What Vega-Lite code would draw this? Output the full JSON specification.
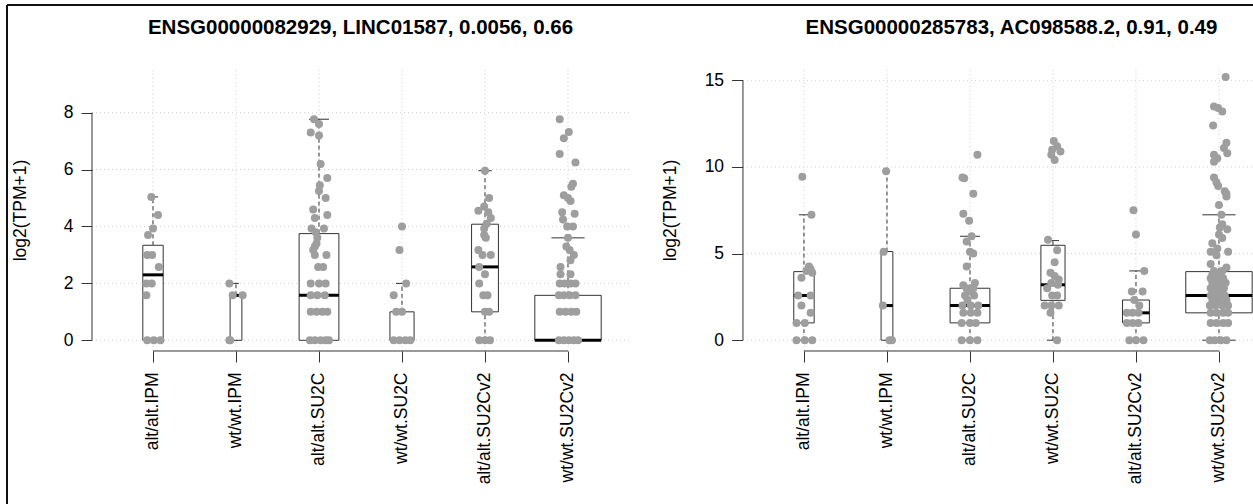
{
"$schema": "https://vega.github.io/schema/vega-lite/v6.json",
"width": 1246, "height": 499,
"autosize": {"type": "none"},
"padding": {"left": 7, "top": 5, "right": 0, "bottom": 0},
"background": "white",
"config": {
  "font": "Liberation Sans",
  "view": {"stroke": "#111", "strokeWidth": 2, "strokeDash": [1246, 1745, 499, 0]},
  "axis": {"labelFont": "Liberation Sans", "titleFont": "Liberation Sans"}
},
"datasets": {
  "titleA": [{"t": "ENSG00000082929, LINC01587, 0.0056, 0.66"}],
  "titleB": [{"t": "ENSG00000285783, AC098588.2, 0.91, 0.49"}],
  "ticksA": [{"v": 0}, {"v": 2}, {"v": 4}, {"v": 6}, {"v": 8}],
  "ticksB": [{"v": 0}, {"v": 5}, {"v": 10}, {"v": 15}],
  "boxA": [
    {"g": "alt/alt.IPM", "i": 1, "n": 15, "lo": 0, "q1": 0, "med": 2.3, "q3": 3.34, "hi": 5.04},
    {"g": "wt/wt.IPM", "i": 2, "n": 5, "lo": 0, "q1": 0, "med": 1.58, "q3": 1.58, "hi": 2.0},
    {"g": "alt/alt.SU2C", "i": 3, "n": 57, "lo": 0, "q1": 0, "med": 1.58, "q3": 3.75, "hi": 7.77},
    {"g": "wt/wt.SU2C", "i": 4, "n": 21, "lo": 0, "q1": 0, "med": 0, "q3": 1.0, "hi": 2.0},
    {"g": "alt/alt.SU2Cv2", "i": 5, "n": 26, "lo": 0, "q1": 1.0, "med": 2.58, "q3": 4.08, "hi": 5.96},
    {"g": "wt/wt.SU2Cv2", "i": 6, "n": 159, "lo": 0, "q1": 0, "med": 0, "q3": 1.58, "hi": 3.6}
  ],
  "boxB": [
    {"g": "alt/alt.IPM", "i": 1, "n": 15, "lo": 0, "q1": 1.0, "med": 2.58, "q3": 3.96, "hi": 7.24},
    {"g": "wt/wt.IPM", "i": 2, "n": 5, "lo": 0, "q1": 0, "med": 2.0, "q3": 5.12, "hi": 9.75},
    {"g": "alt/alt.SU2C", "i": 3, "n": 57, "lo": 0, "q1": 1.0, "med": 2.0, "q3": 3.0, "hi": 6.0},
    {"g": "wt/wt.SU2C", "i": 4, "n": 21, "lo": 0, "q1": 2.3, "med": 3.2, "q3": 5.48, "hi": 5.75},
    {"g": "alt/alt.SU2Cv2", "i": 5, "n": 26, "lo": 0, "q1": 1.0, "med": 1.58, "q3": 2.32, "hi": 4.0},
    {"g": "wt/wt.SU2Cv2", "i": 6, "n": 159, "lo": 0, "q1": 1.58, "med": 2.58, "q3": 3.96, "hi": 7.24}
  ],
  "ptsA": [
    {"i":1,"j":-0.02,"v":5.04},{"i":1,"j":0.06,"v":4.4},{"i":1,"j":0.0,"v":3.93},{"i":1,"j":-0.06,"v":3.7},{"i":1,"j":-0.07,"v":3.0},{"i":1,"j":-0.01,"v":3.0},{"i":1,"j":0.07,"v":2.58},{"i":1,"j":-0.08,"v":2.0},{"i":1,"j":-0.015,"v":2.0},{"i":1,"j":-0.08,"v":1.58},{"i":1,"j":-0.07,"v":0},{"i":1,"j":0.01,"v":0},{"i":1,"j":0.09,"v":0},
    {"i":2,"j":-0.08,"v":2.0},{"i":2,"j":-0.04,"v":1.58},{"i":2,"j":0.08,"v":1.58},{"i":2,"j":-0.08,"v":0},{"i":2,"j":-0.07,"v":0},
    {"i":3,"j":-0.06,"v":7.77},{"i":3,"j":0.0,"v":7.6},{"i":3,"j":-0.1,"v":7.3},{"i":3,"j":0.0,"v":7.2},{"i":3,"j":0.02,"v":6.2},{"i":3,"j":0.1,"v":5.7},{"i":3,"j":0.01,"v":5.45},{"i":3,"j":0.0,"v":5.25},{"i":3,"j":0.08,"v":5.0},{"i":3,"j":-0.07,"v":4.6},{"i":3,"j":0.1,"v":4.4},{"i":3,"j":-0.05,"v":4.3},{"i":3,"j":-0.09,"v":3.93},{"i":3,"j":0.06,"v":3.93},{"i":3,"j":-0.04,"v":3.8},{"i":3,"j":-0.02,"v":3.6},{"i":3,"j":-0.03,"v":3.4},{"i":3,"j":-0.05,"v":3.3},{"i":3,"j":-0.07,"v":3.17},{"i":3,"j":-0.05,"v":3.0},{"i":3,"j":0.09,"v":3.0},{"i":3,"j":-0.01,"v":2.58},{"i":3,"j":0.05,"v":2.58},{"i":3,"j":-0.1,"v":2.0},{"i":3,"j":0.0,"v":2.0},{"i":3,"j":0.08,"v":2.0},{"i":3,"j":-0.1,"v":1.58},{"i":3,"j":-0.02,"v":1.58},{"i":3,"j":0.07,"v":1.58},{"i":3,"j":-0.1,"v":1.0},{"i":3,"j":-0.03,"v":1.0},{"i":3,"j":0.04,"v":1.0},{"i":3,"j":0.1,"v":1.0},{"i":3,"j":-0.11,"v":0},{"i":3,"j":-0.05,"v":0},{"i":3,"j":0.02,"v":0},{"i":3,"j":0.08,"v":0},{"i":3,"j":0.12,"v":0},
    {"i":4,"j":0.0,"v":4.0},{"i":4,"j":-0.03,"v":3.17},{"i":4,"j":0.05,"v":2.0},{"i":4,"j":-0.1,"v":1.58},{"i":4,"j":-0.07,"v":1.0},{"i":4,"j":0.0,"v":1.0},{"i":4,"j":-0.1,"v":0},{"i":4,"j":-0.03,"v":0},{"i":4,"j":0.04,"v":0},{"i":4,"j":0.1,"v":0},
    {"i":5,"j":0.0,"v":5.96},{"i":5,"j":0.05,"v":5.0},{"i":5,"j":-0.01,"v":4.7},{"i":5,"j":-0.08,"v":4.55},{"i":5,"j":0.04,"v":4.5},{"i":5,"j":0.07,"v":4.3},{"i":5,"j":0.02,"v":4.1},{"i":5,"j":-0.01,"v":3.93},{"i":5,"j":-0.01,"v":3.7},{"i":5,"j":0.01,"v":3.6},{"i":5,"j":-0.08,"v":3.17},{"i":5,"j":-0.03,"v":3.0},{"i":5,"j":0.07,"v":3.0},{"i":5,"j":-0.07,"v":2.58},{"i":5,"j":0.0,"v":2.32},{"i":5,"j":-0.07,"v":2.0},{"i":5,"j":-0.02,"v":1.58},{"i":5,"j":0.03,"v":1.58},{"i":5,"j":0.0,"v":1.0},{"i":5,"j":0.05,"v":1.0},{"i":5,"j":-0.07,"v":0},{"i":5,"j":0.0,"v":0},{"i":5,"j":0.06,"v":0},
    {"i":6,"j":-0.1,"v":7.77},{"i":6,"j":0.01,"v":7.32},{"i":6,"j":-0.05,"v":7.1},{"i":6,"j":-0.1,"v":6.55},{"i":6,"j":0.09,"v":6.25},{"i":6,"j":0.06,"v":5.5},{"i":6,"j":0.04,"v":5.4},{"i":6,"j":-0.05,"v":5.1},{"i":6,"j":0.0,"v":5.0},{"i":6,"j":0.03,"v":4.9},{"i":6,"j":-0.07,"v":4.5},{"i":6,"j":0.08,"v":4.45},{"i":6,"j":-0.06,"v":4.25},{"i":6,"j":-0.01,"v":4.0},{"i":6,"j":0.06,"v":4.0},{"i":6,"j":0.0,"v":3.6},{"i":6,"j":-0.02,"v":3.3},{"i":6,"j":0.02,"v":3.17},{"i":6,"j":0.07,"v":3.0},{"i":6,"j":0.03,"v":2.81},{"i":6,"j":-0.09,"v":2.58},{"i":6,"j":-0.09,"v":2.32},{"i":6,"j":0.03,"v":2.32},{"i":6,"j":-0.1,"v":2.0},{"i":6,"j":-0.04,"v":2.0},{"i":6,"j":0.03,"v":2.0},{"i":6,"j":0.09,"v":2.0},{"i":6,"j":-0.11,"v":1.58},{"i":6,"j":-0.05,"v":1.58},{"i":6,"j":0.02,"v":1.58},{"i":6,"j":0.09,"v":1.58},{"i":6,"j":-0.1,"v":1.0},{"i":6,"j":-0.03,"v":1.0},{"i":6,"j":0.04,"v":1.0},{"i":6,"j":0.1,"v":1.0},{"i":6,"j":-0.11,"v":0},{"i":6,"j":-0.05,"v":0},{"i":6,"j":0.01,"v":0},{"i":6,"j":0.07,"v":0},{"i":6,"j":0.12,"v":0}
  ],
  "ptsB": [
    {"i":1,"j":-0.02,"v":9.43},{"i":1,"j":0.09,"v":7.24},{"i":1,"j":0.06,"v":4.25},{"i":1,"j":0.08,"v":4.1},{"i":1,"j":0.03,"v":4.0},{"i":1,"j":0.1,"v":3.9},{"i":1,"j":-0.03,"v":3.6},{"i":1,"j":-0.07,"v":2.58},{"i":1,"j":0.08,"v":2.58},{"i":1,"j":-0.03,"v":2.0},{"i":1,"j":0.08,"v":1.58},{"i":1,"j":-0.09,"v":1.0},{"i":1,"j":0.01,"v":1.0},{"i":1,"j":-0.09,"v":0},{"i":1,"j":0.01,"v":0},{"i":1,"j":0.1,"v":0},
    {"i":2,"j":-0.01,"v":9.75},{"i":2,"j":-0.04,"v":5.1},{"i":2,"j":-0.05,"v":2.0},{"i":2,"j":0.03,"v":0},{"i":2,"j":0.06,"v":0},
    {"i":3,"j":0.09,"v":10.7},{"i":3,"j":-0.09,"v":9.4},{"i":3,"j":-0.07,"v":9.35},{"i":3,"j":0.04,"v":8.45},{"i":3,"j":-0.08,"v":7.3},{"i":3,"j":-0.01,"v":6.9},{"i":3,"j":0.02,"v":6.0},{"i":3,"j":-0.04,"v":5.7},{"i":3,"j":0.0,"v":5.1},{"i":3,"j":0.04,"v":5.0},{"i":3,"j":-0.04,"v":4.25},{"i":3,"j":0.06,"v":3.3},{"i":3,"j":-0.08,"v":3.17},{"i":3,"j":-0.04,"v":3.0},{"i":3,"j":0.04,"v":3.0},{"i":3,"j":-0.01,"v":2.81},{"i":3,"j":-0.06,"v":2.58},{"i":3,"j":0.05,"v":2.58},{"i":3,"j":-0.03,"v":2.32},{"i":3,"j":-0.09,"v":2.0},{"i":3,"j":0.01,"v":2.0},{"i":3,"j":0.1,"v":2.0},{"i":3,"j":-0.08,"v":1.58},{"i":3,"j":0.01,"v":1.58},{"i":3,"j":0.09,"v":1.58},{"i":3,"j":-0.1,"v":1.0},{"i":3,"j":0.0,"v":1.0},{"i":3,"j":0.07,"v":1.0},{"i":3,"j":-0.1,"v":0},{"i":3,"j":0.0,"v":0},{"i":3,"j":0.09,"v":0},
    {"i":4,"j":0.01,"v":11.5},{"i":4,"j":0.05,"v":11.2},{"i":4,"j":-0.01,"v":11.0},{"i":4,"j":0.09,"v":10.9},{"i":4,"j":-0.02,"v":10.7},{"i":4,"j":0.02,"v":10.4},{"i":4,"j":-0.06,"v":5.8},{"i":4,"j":0.05,"v":5.2},{"i":4,"j":0.02,"v":4.5},{"i":4,"j":-0.03,"v":3.9},{"i":4,"j":0.02,"v":3.7},{"i":4,"j":0.07,"v":3.5},{"i":4,"j":-0.02,"v":3.3},{"i":4,"j":0.06,"v":3.2},{"i":4,"j":-0.07,"v":3.0},{"i":4,"j":-0.01,"v":2.58},{"i":4,"j":0.05,"v":2.58},{"i":4,"j":-0.1,"v":2.0},{"i":4,"j":-0.02,"v":2.0},{"i":4,"j":0.07,"v":2.0},{"i":4,"j":-0.03,"v":1.58},{"i":4,"j":0.05,"v":0},
    {"i":5,"j":-0.03,"v":7.5},{"i":5,"j":0.0,"v":6.1},{"i":5,"j":0.1,"v":4.0},{"i":5,"j":-0.05,"v":2.81},{"i":5,"j":0.08,"v":2.81},{"i":5,"j":-0.02,"v":2.32},{"i":5,"j":0.04,"v":2.0},{"i":5,"j":-0.11,"v":1.58},{"i":5,"j":-0.04,"v":1.58},{"i":5,"j":0.03,"v":1.58},{"i":5,"j":-0.11,"v":1.0},{"i":5,"j":-0.04,"v":1.0},{"i":5,"j":0.03,"v":1.0},{"i":5,"j":-0.08,"v":0},{"i":5,"j":0.0,"v":0},{"i":5,"j":0.09,"v":0},
    {"i":6,"j":0.08,"v":15.2},{"i":6,"j":-0.06,"v":13.5},{"i":6,"j":-0.01,"v":13.4},{"i":6,"j":0.04,"v":13.2},{"i":6,"j":-0.07,"v":12.4},{"i":6,"j":0.09,"v":11.4},{"i":6,"j":0.06,"v":11.1},{"i":6,"j":0.1,"v":10.8},{"i":6,"j":-0.06,"v":10.7},{"i":6,"j":-0.02,"v":10.5},{"i":6,"j":-0.06,"v":10.3},{"i":6,"j":-0.06,"v":9.4},{"i":6,"j":-0.03,"v":9.1},{"i":6,"j":-0.01,"v":8.9},{"i":6,"j":0.07,"v":8.6},{"i":6,"j":0.09,"v":8.45},{"i":6,"j":0.09,"v":8.3},{"i":6,"j":0.0,"v":7.8},{"i":6,"j":0.03,"v":7.25},{"i":6,"j":0.04,"v":6.7},{"i":6,"j":0.01,"v":6.5},{"i":6,"j":0.1,"v":6.4},{"i":6,"j":0.0,"v":6.1},{"i":6,"j":0.04,"v":5.9},{"i":6,"j":-0.08,"v":5.6},{"i":6,"j":-0.02,"v":5.3},{"i":6,"j":-0.1,"v":5.1},{"i":6,"j":0.11,"v":5.1},{"i":6,"j":-0.03,"v":4.9},{"i":6,"j":-0.1,"v":4.4},{"i":6,"j":0.09,"v":4.2},{"i":6,"j":-0.06,"v":4.0},{"i":6,"j":0.04,"v":4.0},{"i":6,"j":-0.08,"v":3.8},{"i":6,"j":0.02,"v":3.8},{"i":6,"j":-0.1,"v":3.58},{"i":6,"j":-0.03,"v":3.58},{"i":6,"j":0.05,"v":3.58},{"i":6,"j":-0.08,"v":3.32},{"i":6,"j":0.0,"v":3.32},{"i":6,"j":0.08,"v":3.32},{"i":6,"j":-0.05,"v":3.17},{"i":6,"j":0.04,"v":3.17},{"i":6,"j":-0.1,"v":3.0},{"i":6,"j":-0.02,"v":3.0},{"i":6,"j":0.06,"v":3.0},{"i":6,"j":-0.07,"v":2.81},{"i":6,"j":0.03,"v":2.81},{"i":6,"j":-0.1,"v":2.58},{"i":6,"j":-0.02,"v":2.58},{"i":6,"j":0.07,"v":2.58},{"i":6,"j":-0.08,"v":2.32},{"i":6,"j":0.0,"v":2.32},{"i":6,"j":0.09,"v":2.32},{"i":6,"j":-0.11,"v":2.0},{"i":6,"j":-0.04,"v":2.0},{"i":6,"j":0.04,"v":2.0},{"i":6,"j":0.11,"v":2.0},{"i":6,"j":-0.1,"v":1.58},{"i":6,"j":-0.03,"v":1.58},{"i":6,"j":0.05,"v":1.58},{"i":6,"j":0.11,"v":1.58},{"i":6,"j":-0.1,"v":1.0},{"i":6,"j":-0.03,"v":1.0},{"i":6,"j":0.05,"v":1.0},{"i":6,"j":0.11,"v":1.0},{"i":6,"j":-0.11,"v":0},{"i":6,"j":-0.05,"v":0},{"i":6,"j":0.02,"v":0},{"i":6,"j":0.09,"v":0}
  ]
},
"layer": [
  {"data": {"name": "ticksA"}, "mark": {"type": "rule", "stroke": "#cfcfcf", "strokeDash": [1, 3]},
   "encoding": {
     "x": {"datum": 0.265, "type": "quantitative", "scale": {"domain": [-0.759, 14.253], "nice": false, "zero": false}, "axis": null},
     "x2": {"datum": 6.735},
     "y": {"field": "v", "type": "quantitative", "scale": {"domain": [-5.754, 11.785], "nice": false, "zero": false}, "axis": null}}},
  {"data": {"name": "boxA"}, "mark": {"type": "rule", "stroke": "#cfcfcf", "strokeDash": [1, 3]},
   "encoding": {
     "x": {"field": "i", "type": "quantitative", "scale": {"domain": [-0.759, 14.253], "nice": false, "zero": false}, "axis": null},
     "y": {"datum": -0.376, "type": "quantitative", "scale": {"domain": [-5.754, 11.785], "nice": false, "zero": false}, "axis": null},
     "y2": {"datum": 9.536}}},
  {"data": {"values": [{}]}, "mark": {"type": "rule", "stroke": "#333"},
   "encoding": {
     "x": {"datum": 0.265, "type": "quantitative", "scale": {"domain": [-0.759, 14.253], "nice": false, "zero": false}, "axis": null},
     "y": {"datum": 0, "type": "quantitative", "scale": {"domain": [-5.754, 11.785], "nice": false, "zero": false}, "axis": null},
     "y2": {"datum": 8}}},
  {"data": {"values": [{}]}, "mark": {"type": "rule", "stroke": "#333"},
   "encoding": {
     "x": {"datum": 1, "type": "quantitative", "scale": {"domain": [-0.759, 14.253], "nice": false, "zero": false}, "axis": null},
     "x2": {"datum": 6},
     "y": {"datum": -0.376, "type": "quantitative", "scale": {"domain": [-5.754, 11.785], "nice": false, "zero": false}, "axis": null}}},
  {"data": {"name": "boxA"}, "mark": {"type": "rule", "stroke": "#333", "strokeDash": [4, 3]},
   "encoding": {
     "x": {"field": "i", "type": "quantitative", "scale": {"domain": [-0.759, 14.253], "nice": false, "zero": false}, "axis": null},
     "y": {"field": "q3", "type": "quantitative", "scale": {"domain": [-5.754, 11.785], "nice": false, "zero": false}, "axis": null},
     "y2": {"field": "hi"}}},
  {"data": {"name": "boxA"}, "mark": {"type": "rule", "stroke": "#333", "strokeDash": [4, 3]},
   "encoding": {
     "x": {"field": "i", "type": "quantitative", "scale": {"domain": [-0.759, 14.253], "nice": false, "zero": false}, "axis": null},
     "y": {"field": "lo", "type": "quantitative", "scale": {"domain": [-5.754, 11.785], "nice": false, "zero": false}, "axis": null},
     "y2": {"field": "q1"}}},
  {"data": {"name": "boxA"},
   "transform": [{"joinaggregate": [{"op": "max", "field": "n", "as": "nmax"}]}, {"calculate": "datum.i-0.2*sqrt(datum.n/datum.nmax)", "as": "sl"}, {"calculate": "datum.i+0.2*sqrt(datum.n/datum.nmax)", "as": "sr"}],
   "mark": {"type": "rule", "stroke": "#333"},
   "encoding": {
     "x": {"field": "sl", "type": "quantitative", "scale": {"domain": [-0.759, 14.253], "nice": false, "zero": false}, "axis": null},
     "x2": {"field": "sr"},
     "y": {"field": "hi", "type": "quantitative", "scale": {"domain": [-5.754, 11.785], "nice": false, "zero": false}, "axis": null}}},
  {"data": {"name": "boxA"},
   "transform": [{"joinaggregate": [{"op": "max", "field": "n", "as": "nmax"}]}, {"calculate": "datum.i-0.2*sqrt(datum.n/datum.nmax)", "as": "sl"}, {"calculate": "datum.i+0.2*sqrt(datum.n/datum.nmax)", "as": "sr"}],
   "mark": {"type": "rule", "stroke": "#333"},
   "encoding": {
     "x": {"field": "sl", "type": "quantitative", "scale": {"domain": [-0.759, 14.253], "nice": false, "zero": false}, "axis": null},
     "x2": {"field": "sr"},
     "y": {"field": "lo", "type": "quantitative", "scale": {"domain": [-5.754, 11.785], "nice": false, "zero": false}, "axis": null}}},
  {"data": {"name": "boxA"},
   "transform": [{"joinaggregate": [{"op": "max", "field": "n", "as": "nmax"}]}, {"calculate": "datum.i-0.4*sqrt(datum.n/datum.nmax)", "as": "xl"}, {"calculate": "datum.i+0.4*sqrt(datum.n/datum.nmax)", "as": "xr"}],
   "mark": {"type": "rect", "fill": "#fff", "stroke": "#333", "strokeWidth": 1},
   "encoding": {
     "x": {"field": "xl", "type": "quantitative", "scale": {"domain": [-0.759, 14.253], "nice": false, "zero": false}, "axis": null},
     "x2": {"field": "xr"},
     "y": {"field": "q1", "type": "quantitative", "scale": {"domain": [-5.754, 11.785], "nice": false, "zero": false}, "axis": null},
     "y2": {"field": "q3"}}},
  {"data": {"name": "boxA"},
   "transform": [{"joinaggregate": [{"op": "max", "field": "n", "as": "nmax"}]}, {"calculate": "datum.i-0.4*sqrt(datum.n/datum.nmax)", "as": "xl"}, {"calculate": "datum.i+0.4*sqrt(datum.n/datum.nmax)", "as": "xr"}],
   "mark": {"type": "rule", "stroke": "#000", "strokeWidth": 3},
   "encoding": {
     "x": {"field": "xl", "type": "quantitative", "scale": {"domain": [-0.759, 14.253], "nice": false, "zero": false}, "axis": null},
     "x2": {"field": "xr"},
     "y": {"field": "med", "type": "quantitative", "scale": {"domain": [-5.754, 11.785], "nice": false, "zero": false}, "axis": null}}},
  {"data": {"name": "ptsA"}, "transform": [{"calculate": "datum.i+datum.j", "as": "x"}],
   "mark": {"type": "circle", "size": 64, "color": "#9e9e9e", "opacity": 1},
   "encoding": {
     "x": {"field": "x", "type": "quantitative", "scale": {"domain": [-0.759, 14.253], "nice": false, "zero": false},
           "axis": {"orient": "bottom", "offset": -153, "values": [1, 2, 3, 4, 5, 6], "domain": false, "grid": false, "tickSize": 11, "tickColor": "#333", "tickWidth": 1, "labelAngle": 270, "labelFontSize": 17.5, "labelColor": "#000", "labelPadding": 10, "labelFlush": false, "labelOverlap": false, "labelExpr": "['alt/alt.IPM','wt/wt.IPM','alt/alt.SU2C','wt/wt.SU2C','alt/alt.SU2Cv2','wt/wt.SU2Cv2'][datum.value-1]", "title": null}},
     "y": {"field": "v", "type": "quantitative", "scale": {"domain": [-5.754, 11.785], "nice": false, "zero": false},
           "axis": {"orient": "left", "offset": -85, "values": [0, 2, 4, 6, 8], "domain": false, "grid": false, "tickSize": 11, "tickColor": "#333", "tickWidth": 1, "labelFontSize": 17.5, "labelColor": "#000", "labelPadding": 8, "labelFlush": false, "labelOverlap": false, "title": "log2(TPM+1)", "titleFontSize": 17.5, "titleFontWeight": "normal", "titleColor": "#000", "titleAngle": 270, "titleX": -72, "titleY": 205, "titleAlign": "center", "titleBaseline": "middle"}}}},
  {"data": {"name": "titleA"},
   "mark": {"type": "text", "fontSize": 20.5, "fontWeight": "bold", "align": "center", "baseline": "alphabetic", "color": "#000"},
   "encoding": {
     "x": {"datum": 3.5, "type": "quantitative", "scale": {"domain": [-0.759, 14.253], "nice": false, "zero": false}, "axis": null},
     "y": {"datum": 10.766, "type": "quantitative", "scale": {"domain": [-5.754, 11.785], "nice": false, "zero": false}, "axis": null},
     "text": {"field": "t"}}},

  {"data": {"name": "ticksB"}, "mark": {"type": "rule", "stroke": "#cfcfcf", "strokeDash": [1, 3]},
   "encoding": {
     "x": {"datum": 0.265, "type": "quantitative", "scale": {"domain": [-8.602, 6.41], "nice": false, "zero": false}, "axis": null},
     "x2": {"datum": 6.735},
     "y": {"field": "v", "type": "quantitative", "scale": {"domain": [-9.457, 19.353], "nice": false, "zero": false}, "axis": null}}},
  {"data": {"name": "boxB"}, "mark": {"type": "rule", "stroke": "#cfcfcf", "strokeDash": [1, 3]},
   "encoding": {
     "x": {"field": "i", "type": "quantitative", "scale": {"domain": [-8.602, 6.41], "nice": false, "zero": false}, "axis": null},
     "y": {"datum": -0.623, "type": "quantitative", "scale": {"domain": [-9.457, 19.353], "nice": false, "zero": false}, "axis": null},
     "y2": {"datum": 15.658}}},
  {"data": {"values": [{}]}, "mark": {"type": "rule", "stroke": "#333"},
   "encoding": {
     "x": {"datum": 0.265, "type": "quantitative", "scale": {"domain": [-8.602, 6.41], "nice": false, "zero": false}, "axis": null},
     "y": {"datum": 0, "type": "quantitative", "scale": {"domain": [-9.457, 19.353], "nice": false, "zero": false}, "axis": null},
     "y2": {"datum": 15}}},
  {"data": {"values": [{}]}, "mark": {"type": "rule", "stroke": "#333"},
   "encoding": {
     "x": {"datum": 1, "type": "quantitative", "scale": {"domain": [-8.602, 6.41], "nice": false, "zero": false}, "axis": null},
     "x2": {"datum": 6},
     "y": {"datum": -0.623, "type": "quantitative", "scale": {"domain": [-9.457, 19.353], "nice": false, "zero": false}, "axis": null}}},
  {"data": {"name": "boxB"}, "mark": {"type": "rule", "stroke": "#333", "strokeDash": [4, 3]},
   "encoding": {
     "x": {"field": "i", "type": "quantitative", "scale": {"domain": [-8.602, 6.41], "nice": false, "zero": false}, "axis": null},
     "y": {"field": "q3", "type": "quantitative", "scale": {"domain": [-9.457, 19.353], "nice": false, "zero": false}, "axis": null},
     "y2": {"field": "hi"}}},
  {"data": {"name": "boxB"}, "mark": {"type": "rule", "stroke": "#333", "strokeDash": [4, 3]},
   "encoding": {
     "x": {"field": "i", "type": "quantitative", "scale": {"domain": [-8.602, 6.41], "nice": false, "zero": false}, "axis": null},
     "y": {"field": "lo", "type": "quantitative", "scale": {"domain": [-9.457, 19.353], "nice": false, "zero": false}, "axis": null},
     "y2": {"field": "q1"}}},
  {"data": {"name": "boxB"},
   "transform": [{"joinaggregate": [{"op": "max", "field": "n", "as": "nmax"}]}, {"calculate": "datum.i-0.2*sqrt(datum.n/datum.nmax)", "as": "sl"}, {"calculate": "datum.i+0.2*sqrt(datum.n/datum.nmax)", "as": "sr"}],
   "mark": {"type": "rule", "stroke": "#333"},
   "encoding": {
     "x": {"field": "sl", "type": "quantitative", "scale": {"domain": [-8.602, 6.41], "nice": false, "zero": false}, "axis": null},
     "x2": {"field": "sr"},
     "y": {"field": "hi", "type": "quantitative", "scale": {"domain": [-9.457, 19.353], "nice": false, "zero": false}, "axis": null}}},
  {"data": {"name": "boxB"},
   "transform": [{"joinaggregate": [{"op": "max", "field": "n", "as": "nmax"}]}, {"calculate": "datum.i-0.2*sqrt(datum.n/datum.nmax)", "as": "sl"}, {"calculate": "datum.i+0.2*sqrt(datum.n/datum.nmax)", "as": "sr"}],
   "mark": {"type": "rule", "stroke": "#333"},
   "encoding": {
     "x": {"field": "sl", "type": "quantitative", "scale": {"domain": [-8.602, 6.41], "nice": false, "zero": false}, "axis": null},
     "x2": {"field": "sr"},
     "y": {"field": "lo", "type": "quantitative", "scale": {"domain": [-9.457, 19.353], "nice": false, "zero": false}, "axis": null}}},
  {"data": {"name": "boxB"},
   "transform": [{"joinaggregate": [{"op": "max", "field": "n", "as": "nmax"}]}, {"calculate": "datum.i-0.4*sqrt(datum.n/datum.nmax)", "as": "xl"}, {"calculate": "datum.i+0.4*sqrt(datum.n/datum.nmax)", "as": "xr"}],
   "mark": {"type": "rect", "fill": "#fff", "stroke": "#333", "strokeWidth": 1},
   "encoding": {
     "x": {"field": "xl", "type": "quantitative", "scale": {"domain": [-8.602, 6.41], "nice": false, "zero": false}, "axis": null},
     "x2": {"field": "xr"},
     "y": {"field": "q1", "type": "quantitative", "scale": {"domain": [-9.457, 19.353], "nice": false, "zero": false}, "axis": null},
     "y2": {"field": "q3"}}},
  {"data": {"name": "boxB"},
   "transform": [{"joinaggregate": [{"op": "max", "field": "n", "as": "nmax"}]}, {"calculate": "datum.i-0.4*sqrt(datum.n/datum.nmax)", "as": "xl"}, {"calculate": "datum.i+0.4*sqrt(datum.n/datum.nmax)", "as": "xr"}],
   "mark": {"type": "rule", "stroke": "#000", "strokeWidth": 3},
   "encoding": {
     "x": {"field": "xl", "type": "quantitative", "scale": {"domain": [-8.602, 6.41], "nice": false, "zero": false}, "axis": null},
     "x2": {"field": "xr"},
     "y": {"field": "med", "type": "quantitative", "scale": {"domain": [-9.457, 19.353], "nice": false, "zero": false}, "axis": null}}},
  {"data": {"name": "ptsB"}, "transform": [{"calculate": "datum.i+datum.j", "as": "x"}],
   "mark": {"type": "circle", "size": 64, "color": "#9e9e9e", "opacity": 1},
   "encoding": {
     "x": {"field": "x", "type": "quantitative", "scale": {"domain": [-8.602, 6.41], "nice": false, "zero": false},
           "axis": {"orient": "bottom", "offset": -153, "values": [1, 2, 3, 4, 5, 6], "domain": false, "grid": false, "tickSize": 11, "tickColor": "#333", "tickWidth": 1, "labelAngle": 270, "labelFontSize": 17.5, "labelColor": "#000", "labelPadding": 10, "labelFlush": false, "labelOverlap": false, "labelExpr": "['alt/alt.IPM','wt/wt.IPM','alt/alt.SU2C','wt/wt.SU2C','alt/alt.SU2Cv2','wt/wt.SU2Cv2'][datum.value-1]", "title": null}},
     "y": {"field": "v", "type": "quantitative", "scale": {"domain": [-9.457, 19.353], "nice": false, "zero": false},
           "axis": {"orient": "left", "offset": -735.6, "values": [0, 5, 10, 15], "domain": false, "grid": false, "tickSize": 11, "tickColor": "#333", "tickWidth": 1, "labelFontSize": 17.5, "labelColor": "#000", "labelPadding": 8, "labelFlush": false, "labelOverlap": false, "title": "log2(TPM+1)", "titleFontSize": 17.5, "titleFontWeight": "normal", "titleColor": "#000", "titleAngle": 270, "titleX": -72, "titleY": 205, "titleAlign": "center", "titleBaseline": "middle"}}}},
  {"data": {"name": "titleB"},
   "mark": {"type": "text", "fontSize": 20.5, "fontWeight": "bold", "align": "center", "baseline": "alphabetic", "color": "#000"},
   "encoding": {
     "x": {"datum": 3.5, "type": "quantitative", "scale": {"domain": [-8.602, 6.41], "nice": false, "zero": false}, "axis": null},
     "y": {"datum": 17.679, "type": "quantitative", "scale": {"domain": [-9.457, 19.353], "nice": false, "zero": false}, "axis": null},
     "text": {"field": "t"}}}
],
"resolve": {"scale": {"x": "independent", "y": "independent"}, "axis": {"x": "independent", "y": "independent"}}
}
